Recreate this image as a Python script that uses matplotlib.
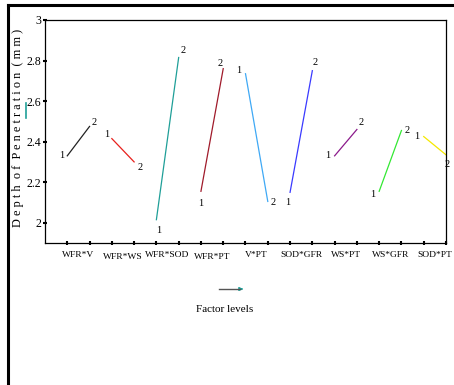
#!/usr/bin/env python3
"""Interaction plot: depth of penetration by factor level pairs."""

import matplotlib
matplotlib.use('Agg')
import matplotlib.pyplot as plt
from matplotlib.lines import Line2D
import numpy as np

plt.rcParams['font.family'] = ['Liberation Serif', 'DejaVu Serif']

# Interaction pairs and mean depth at level 1 and level 2
PAIRS = ['WFR*V', 'WFR*WS', 'WFR*SOD', 'WFR*PT', 'V*PT',
         'SOD*GFR', 'WS*PT', 'WS*GFR', 'SOD*PT']
LEVEL1 = [2.33, 2.415, 2.015, 2.155, 2.735, 2.15, 2.33, 2.155, 2.425]
LEVEL2 = [2.475, 2.30, 2.815, 2.76, 2.105, 2.75, 2.46, 2.455, 2.335]
YTICKS = [2, 2.2, 2.4, 2.6, 2.8, 3]
YTICK_LABELS = ['2', '2.2', '2.4', '2.6', '2.8', '3']

COLORS = ['#222222', '#e8201c', '#1f9f98', '#a01a2a', '#3fa9f5',
          '#3a3aff', '#8b1a8b', '#33e833', '#f5e800']
# label offsets in points for "1" and "2"
OFF1 = [(-4, 0), (-4, 3), (2, -8), (0, -9), (-5, 2), (-2, -7), (-5, 0), (-5, -2), (-5, 0)]
OFF2 = [(3, 3), (4, -4), (3, 5), (-2, 4), (4, -1), (2, 6), (3, 5), (4, 0), (1, -7)]

fig = plt.figure(figsize=(4.54, 3.85), dpi=100)
ax = fig.add_axes([45 / 454, 142 / 385, 401 / 454, 223 / 385])

for i, (a, b) in enumerate(zip(LEVEL1, LEVEL2)):
    x1, x2 = 2 * i + 1, 2 * i + 2
    ax.plot([x1, x2], [a, b], color=COLORS[i], lw=0.9)
    ax.annotate('1', (x1, a), xytext=OFF1[i], textcoords='offset points',
                ha='center', va='center', fontsize=7.5)
    ax.annotate('2', (x2, b), xytext=OFF2[i], textcoords='offset points',
                ha='center', va='center', fontsize=7.5)
    ax.text((x1 + x2) / 2, -0.035 - 0.01 * (i % 2 == 1 and i < 4), PAIRS[i],
            transform=ax.get_xaxis_transform(), ha='center', va='top',
            fontsize=6.8)

ax.set_xlim(0, 18)
ax.set_ylim(1.9, 3.0)
ax.set_xticks(np.arange(1, 19))
ax.set_xticklabels([])
ax.set_yticks(YTICKS)
ax.set_yticklabels(YTICK_LABELS, fontsize=8.5)
ax.tick_params(axis='both', direction='inout', length=3, width=1.5, pad=1)
for s in ax.spines.values():
    s.set_linewidth(0.9)

fig.text(18 / 454, 1 - 128 / 385,
         'D e p t h  o f  P e n e t r a t i o n  ( m m )',
         rotation=90, ha='center', va='center', fontsize=8.8)

# outer frame (top and left only)
fig.add_artist(Line2D([8 / 454, 1], [1 - 5 / 385, 1 - 5 / 385],
                      color='black', lw=2.2))
fig.add_artist(Line2D([8 / 454, 8 / 454], [0, 1 - 5 / 385],
                      color='black', lw=2.2))

# small teal mark beside y label
fig.add_artist(Line2D([26 / 454, 26 / 454], [1 - 118 / 385, 1 - 103 / 385],
                      color='#1f9f98', lw=1.2))

# x axis arrow and caption
fig.add_artist(Line2D([219 / 454, 240 / 454], [1 - 289 / 385, 1 - 289 / 385],
                      color='#555555', lw=1.0))
ax.annotate('', xy=(246 / 454, 1 - 289 / 385), xytext=(238 / 454, 1 - 289 / 385),
            xycoords='figure fraction',
            arrowprops=dict(arrowstyle='-|>', color='#1f9f98', lw=1.0,
                            mutation_scale=5))
fig.text(225 / 454, 1 - 309 / 385, 'Factor levels', ha='center', va='center',
         fontsize=8)

plt.savefig('out.png', dpi=100)
plt.close()
